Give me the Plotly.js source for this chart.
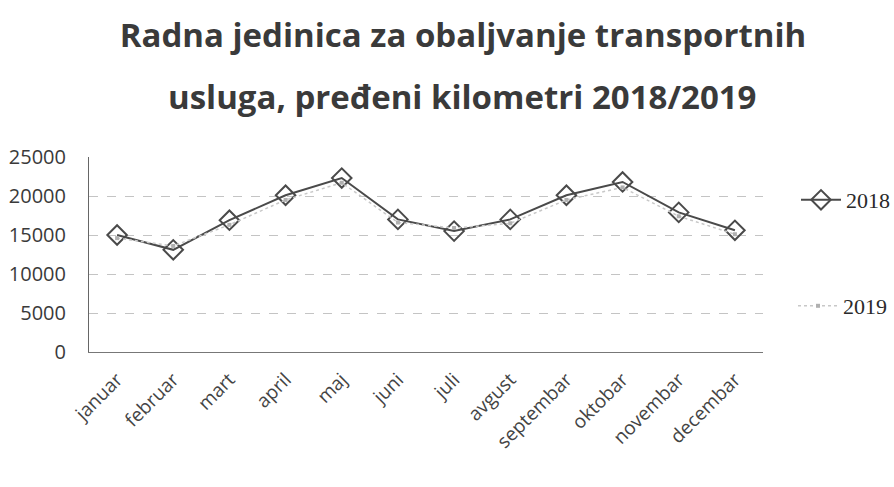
<!DOCTYPE html>
<html>
<head>
<meta charset="utf-8">
<script src="https://cdn.plot.ly/plotly-3.0.1.min.js"></script>
<style>
html, body { margin: 0; padding: 0; background: #fff; overflow: hidden; }
#chart { width: 894px; height: 487px; }
</style>
</head>
<body>
<div id="chart"></div>
<script>
const months = ["januar", "februar", "mart", "april", "maj", "juni", "juli", "avgust", "septembar", "oktobar", "novembar", "decembar"];
const km2018 = [15000, 13100, 16900, 20100, 22300, 17000, 15500, 17000, 20100, 21800, 17900, 15600];
const km2019 = [14600, 13600, 16300, 19500, 21700, 16600, 15900, 16500, 19500, 21100, 17400, 15100];
const seriesNames = ["2018", "2019"];
const yTicks = [0, 5000, 10000, 15000, 20000, 25000];
const titleLine1 = "Radna jedinica za obaljvanje transportnih";
const titleLine2 = "usluga, pređeni kilometri 2018/2019";

const traces = [
  {
    x: months, y: km2018, name: seriesNames[0], type: "scatter", mode: "lines+markers",
    line: { color: "#4a4a4a", width: 2 },
    marker: { symbol: "diamond-open", size: 15, color: "#4a4a4a", line: { width: 2, color: "#4a4a4a" } },
    legend: "legend"
  },
  {
    x: months, y: km2019, name: seriesNames[1], type: "scatter", mode: "lines+markers",
    line: { color: "#c8c8c8", width: 1.5, dash: "dot" },
    marker: { symbol: "square", size: 4, color: "#b0b0b0" },
    legend: "legend2"
  }
];

const titleFont = { family: "Open Sans, sans-serif", size: 33, color: "#3a3a3a", weight: "bold" };

const layout = {
  width: 894, height: 487,
  paper_bgcolor: "#ffffff", plot_bgcolor: "#ffffff",
  margin: { l: 89, r: 131, t: 157, b: 135, autoexpand: false },
  font: { family: "Open Sans, sans-serif", color: "#3a3a3a" },
  title: {
    text: titleLine1,
    font: titleFont,
    x: 463 / 894, xanchor: "center", xref: "container",
    y: 1 - 47 / 487, yanchor: "bottom", yref: "container"
  },
  annotations: [
    {
      text: titleLine2, showarrow: false,
      xref: "paper", yref: "paper",
      x: (463 - 89) / 674, xanchor: "center",
      y: 1 + (157 - 107) / 195, yanchor: "bottom", yshift: -14,
      font: titleFont
    }
  ],
  xaxis: {
    type: "category", range: [-0.5, 11.5],
    tickangle: -45,
    tickfont: { family: "Open Sans, sans-serif", size: 19, color: "#444" },
    ticklabelstandoff: 8,
    showgrid: false, zeroline: false,
    showline: true, linecolor: "#777", linewidth: 1,
    ticks: ""
  },
  yaxis: {
    range: [0, 25000], tickvals: yTicks, ticktext: yTicks.map(String),
    tickfont: { family: "Open Sans, sans-serif", size: 20, color: "#3a3a3a" },
    ticklabelstandoff: 18,
    showgrid: true, gridcolor: "#c4c4c4", griddash: "dash", gridwidth: 1,
    zeroline: false,
    showline: true, linecolor: "#666", linewidth: 1,
    ticks: ""
  },
  legend: {
    xref: "container", yref: "container",
    x: 796 / 894, xanchor: "left", y: 1 - 200 / 487, yanchor: "middle",
    font: { family: "Liberation Serif, serif", size: 22, color: "#2a2a2a" },
    bgcolor: "rgba(0,0,0,0)", itemwidth: 40
  },
  legend2: {
    xref: "container", yref: "container",
    x: 793 / 894, xanchor: "left", y: 1 - 306 / 487, yanchor: "middle",
    font: { family: "Liberation Serif, serif", size: 22, color: "#2a2a2a" },
    bgcolor: "rgba(0,0,0,0)", itemwidth: 40
  },
  showlegend: true
};

Plotly.newPlot("chart", traces, layout, { displayModeBar: false, staticPlot: true });
</script>
</body>
</html>
